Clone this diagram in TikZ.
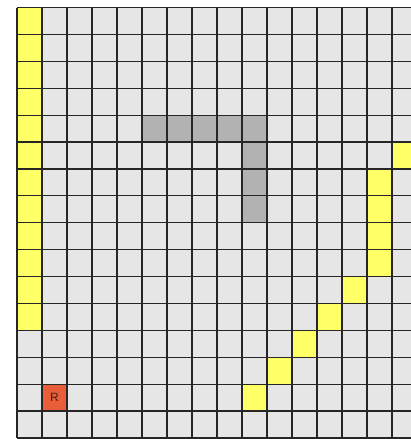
\documentclass[tikz,border=0pt]{standalone}
\usepackage{fontspec}
\setmainfont{Liberation Sans}
\usetikzlibrary{positioning}
\definecolor{GridBack}{RGB}{230,230,230}
\definecolor{GridLine}{RGB}{38,38,38}
\definecolor{PathYellow}{RGB}{255,255,102}
\definecolor{WallGray}{RGB}{178,178,178}
\definecolor{RobotRed}{RGB}{232,94,56}
\definecolor{RobotText}{RGB}{70,30,20}
\tikzset{
  grid/back/.style={fill=GridBack},
  grid/path/.style={fill=PathYellow},
  grid/wall/.style={fill=WallGray},
  grid/line/.style={draw=GridLine, line width=0.9pt},
  grid/robot/.style={
    rectangle,
    fill=RobotRed,
    text=RobotText,
    inner sep=0pt,
    minimum width=18.75pt,
    minimum height=20.175pt,
    font=\small
  }
}

\begin{document}
\begin{tikzpicture}[x=18.75pt,y=-20.175pt]
  \useasboundingbox (-0.68,-0.28) rectangle (15.76,16.04);
  \clip (-0.68,-0.28) rectangle (15.76,16.04);
  \fill[grid/back] (0,0) rectangle (16,16);
  % visited cells
  \foreach \r in {0,...,11}
    \fill[grid/path] (0,\r) rectangle ++(1,1);
  \foreach \c/\r in {15/5,14/6,14/7,14/8,14/9,13/10,12/11,11/12,10/13,9/14}
    \fill[grid/path] (\c,\r) rectangle ++(1,1);
  % obstacle
  \foreach \c/\r in {5/4,6/4,7/4,8/4,9/4,9/5,9/6,9/7}
    \fill[grid/wall] (\c,\r) rectangle ++(1,1);
  \node[grid/robot] (robot) at (1.5,14.5) {R};
  % grid lines
  \foreach \i in {0,...,16} {
    \draw[grid/line] (\i,0) -- (\i,16);
    \draw[grid/line] (0,\i) -- (16,\i);
  }
\end{tikzpicture}
\end{document}
